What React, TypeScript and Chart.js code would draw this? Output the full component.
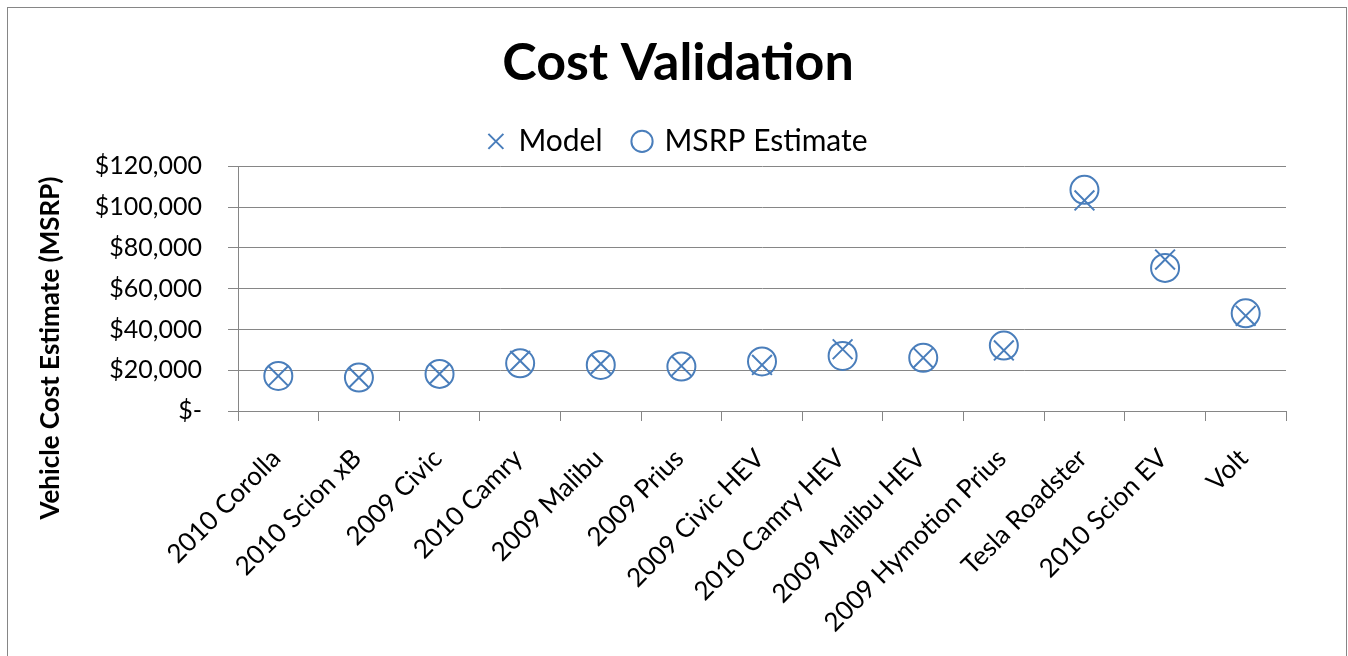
import React, { useEffect, useRef } from 'react';
import { Chart, registerables } from 'chart.js';

Chart.register(...registerables);

const categories = [
  '2010 Corolla',
  '2010 Scion xB',
  '2009 Civic',
  '2010 Camry',
  '2009 Malibu',
  '2009 Prius',
  '2009 Civic HEV',
  '2010 Camry HEV',
  '2009 Malibu HEV',
  '2009 Hymotion Prius',
  'Tesla Roadster',
  '2010 Scion EV',
  'Volt',
];
const modelValues = [17200, 16400, 18200, 24600, 23100, 22100, 22600, 30300, 26100, 29700, 103300, 74300, 46700];
const msrpValues = [17200, 16400, 18200, 23400, 22600, 21800, 24300, 27000, 26100, 32100, 108500, 70200, 47900];
const yMin = 0;
const yMax = 120000;
const yStep = 20000;

const BLUE = '#4a7ebb';
const GRID = '#868686';
const FONT = 'Lato, "Open Sans", sans-serif';

const formatDollar = (v: number) => (v === 0 ? '$-' : '$' + v.toLocaleString('en-US'));

const yTitlePlugin = {
  id: 'yTitle',
  afterDraw(chart: any) {
    const ctx = chart.ctx;
    ctx.save();
    ctx.translate(51, 348);
    ctx.rotate(-Math.PI / 2);
    ctx.font = `bold 26px ${FONT}`;
    ctx.fillStyle = '#000';
    ctx.textAlign = 'center';
    ctx.textBaseline = 'middle';
    ctx.fillText('Vehicle Cost Estimate (MSRP)', 0, 0);
    ctx.restore();
  },
};

export default function App() {
  const ref = useRef<HTMLCanvasElement | null>(null);

  useEffect(() => {
    if (!ref.current) return;
    Chart.defaults.font.family = FONT;
    const chart = new Chart(ref.current, {
      type: 'line',
      data: {
        labels: categories,
        datasets: [
          {
            label: 'Model',
            data: modelValues,
            showLine: false,
            pointStyle: 'crossRot',
            pointRadius: 14,
            pointHoverRadius: 14,
            borderColor: BLUE,
            backgroundColor: BLUE,
            borderWidth: 2,
            pointBorderWidth: 2,
          },
          {
            label: 'MSRP Estimate',
            data: msrpValues,
            showLine: false,
            pointStyle: 'circle',
            pointRadius: 14,
            pointHoverRadius: 14,
            borderColor: BLUE,
            backgroundColor: 'rgba(0,0,0,0)',
            borderWidth: 2,
            pointBorderWidth: 2,
          },
        ],
      },
      plugins: [yTitlePlugin],
      options: {
        animation: false,
        responsive: false,
        devicePixelRatio: 1,
        layout: { padding: { left: 8, right: 0, top: 0, bottom: 0 } },
        plugins: {
          title: {
            display: true,
            text: 'Cost Validation',
            color: '#000',
            font: { family: FONT, size: 52, weight: 'bold' },
            padding: { top: 32, bottom: 0 },
          },
          legend: {
            display: true,
            position: 'top',
            labels: {
              usePointStyle: true,
              boxWidth: 15,
              boxHeight: 15,
              padding: 32,
              color: '#000',
              font: { family: FONT, size: 30 },
            },
          },
          tooltip: { enabled: false },
        },
        scales: {
          x: {
            type: 'category',
            offset: true,
            grid: {
              display: true,
              drawOnChartArea: false,
              drawTicks: true,
              tickLength: 10,
              color: GRID,
              offset: true,
            },
            border: { display: true, color: GRID, width: 1 },
            ticks: {
              autoSkip: false,
              minRotation: 45,
              maxRotation: 45,
              color: '#000',
              padding: 22,
              labelOffset: -2,
              font: { family: FONT, size: 26 },
            },
            afterFit: (s: any) => {
              s.height = 245;
            },
          },
          y: {
            min: yMin,
            max: yMax,
            grid: { color: GRID, tickLength: 10, lineWidth: 1 },
            border: { display: true, color: GRID, width: 1 },
            ticks: {
              stepSize: yStep,
              color: '#000',
              padding: 26,
              font: { family: FONT, size: 25 },
              callback: (v: any) => formatDollar(Number(v)),
            },
            afterFit: (s: any) => {
              s.width = 230;
            },
          },
          yR: {
            position: 'right',
            display: true,
            grid: { display: false },
            border: { display: false },
            ticks: { display: false },
            afterFit: (s: any) => {
              s.width = 62;
            },
          },
        },
      },
    } as any);
    return () => chart.destroy();
  }, []);

  return (
    <div style={{ position: 'fixed', left: 0, top: 0, width: 1348, height: 656, background: '#fff', overflow: 'hidden' }}>
      <div
        style={{
          position: 'absolute',
          left: 7,
          top: 7,
          width: 1338,
          height: 720,
          border: '1px solid #868686',
        }}
      />
      <canvas ref={ref} width={1348} height={656} style={{ position: 'absolute', left: 0, top: 0, width: 1348, height: 656 }} />
    </div>
  );
}
